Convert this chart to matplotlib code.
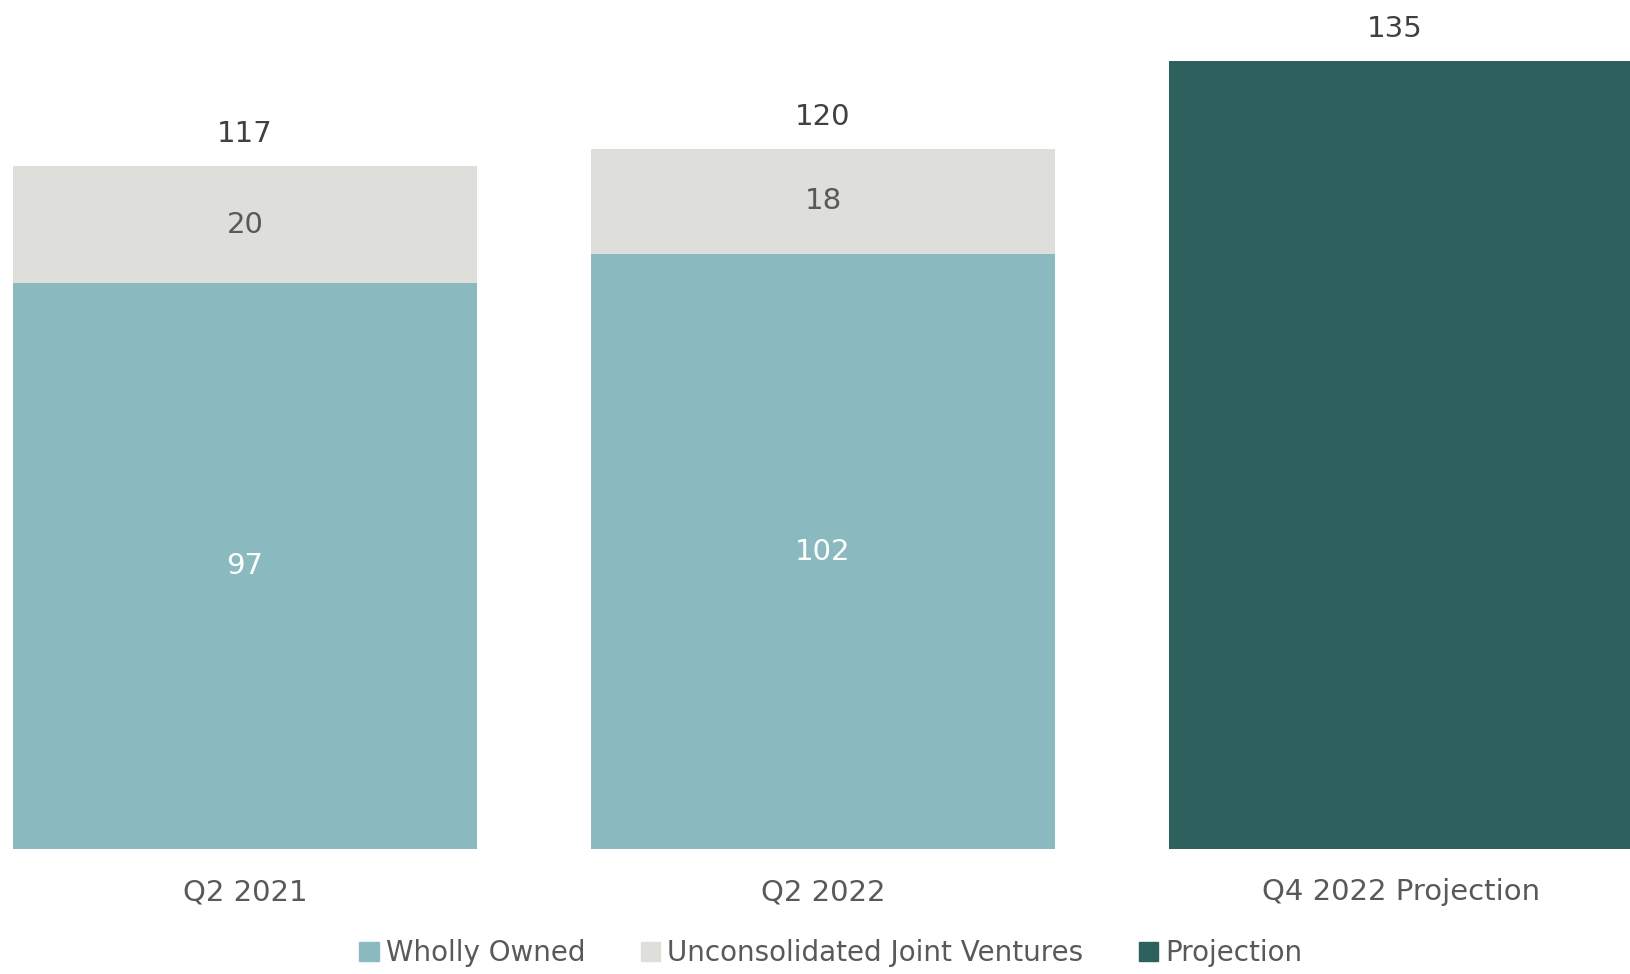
import matplotlib
matplotlib.use("Agg")
import matplotlib.pyplot as plt
from matplotlib.patches import Patch

categories = ["Q2 2021", "Q2 2022", "Q4 2022 Projection"]
wholly_owned = [97, 102, 0]
joint_ventures = [20, 18, 0]
projection = [0, 0, 135]
totals = [117, 120, 135]

c_wholly = "#8abac0"
c_jv = "#dededb"
c_proj = "#2e605e"
c_text = "#595959"
c_total = "#404040"

plt.rcParams["font.family"] = ["DejaVu Sans"]

fig = plt.figure(figsize=(16.30, 9.74), dpi=100)
ax = fig.add_axes([0, 124.7 / 974, 1, (974 - 124.7) / 974])

x = list(range(len(categories)))
w = 0.802
ax.bar(x, wholly_owned, width=w, color=c_wholly, label="Wholly Owned")
ax.bar(x, joint_ventures, width=w, bottom=wholly_owned, color=c_jv,
       label="Unconsolidated Joint Ventures")
ax.bar(x, projection, width=w, color=c_proj, label="Projection")

ax.set_xlim(-245 / 578, (1630 - 245) / 578)
ax.set_ylim(0, 145.5)
ax.axis("off")

fs = 21
total_dx = [0, 0, -6]
for i in range(len(categories)):
    if wholly_owned[i]:
        ax.text(i, wholly_owned[i] / 2, str(wholly_owned[i]), ha="center",
                va="center", color="white", fontsize=fs)
    if joint_ventures[i]:
        ax.text(i, wholly_owned[i] + joint_ventures[i] / 2, str(joint_ventures[i]),
                ha="center", va="center", color=c_text, fontsize=fs)
    ax.annotate(str(totals[i]), (i, totals[i]), xytext=(total_dx[i], 32),
                textcoords="offset pixels", ha="center", va="center",
                color=c_total, fontsize=fs)
    ax.annotate(categories[i], (i, 0), xytext=(0, -43),
                textcoords="offset pixels", ha="center", va="center",
                color=c_text, fontsize=fs)

handles = [Patch(color=c_wholly, label="Wholly Owned"),
           Patch(color=c_jv, label="Unconsolidated Joint Ventures"),
           Patch(color=c_proj, label="Projection")]
fig.legend(handles=handles, loc="center", bbox_to_anchor=(831 / 1630, 1 - 953 / 974),
           ncol=3, frameon=False, fontsize=20, labelcolor=c_text,
           handlelength=0.7, handleheight=0.7, handletextpad=0.25, columnspacing=2.0)

fig.savefig("out.png", dpi=100)
